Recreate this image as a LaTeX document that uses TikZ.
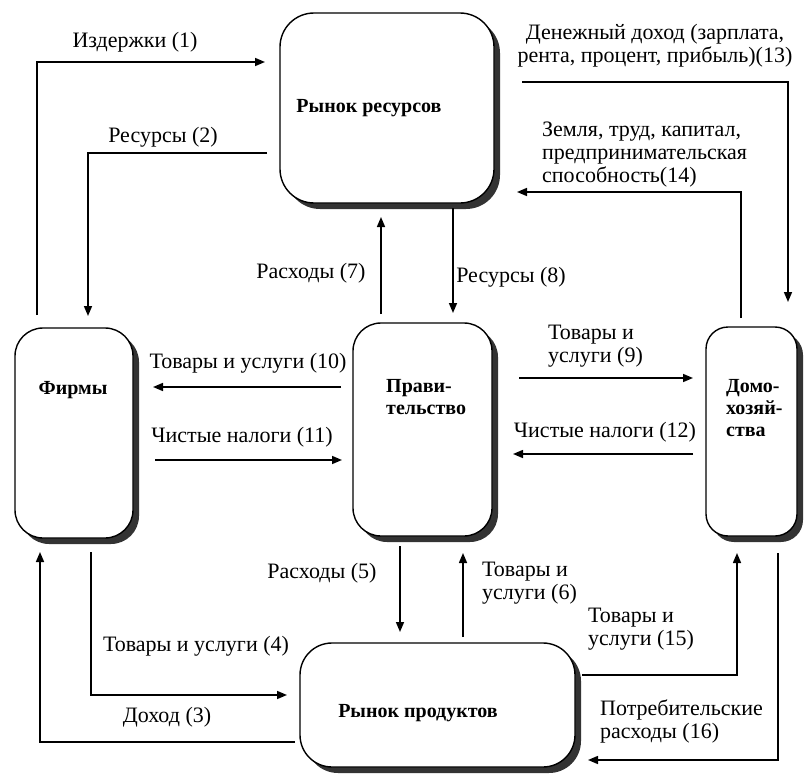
\documentclass[tikz,border=0pt]{standalone}
\usepackage{fontspec}
\setmainfont{Liberation Serif}
\usetikzlibrary{arrows.meta,calc,shadows}
\begin{document}
\begin{tikzpicture}[x=1pt,y=-1pt,
  box/.style={draw=black, line width=1.4pt, rounded corners=28pt, fill=white,
    inner sep=0pt, outer sep=0pt,
    drop shadow={shadow xshift=6pt, shadow yshift=-6pt, fill=black!80, opacity=1}},
  title/.style={font=\fontsize{20}{22}\selectfont\bfseries, align=left, inner sep=0pt},
  lbl/.style={font=\fontsize{22}{23}\selectfont, align=left, inner sep=0pt},
  flow/.style={line width=1.5pt, -{Triangle[length=10pt,width=8pt]}},
]
\useasboundingbox (0,0) rectangle (807,779);

% sectors and markets
\node[box, minimum width=214pt, minimum height=190pt, rounded corners=34pt] (res) at (387,108) {};
\node[box, minimum width=118pt, minimum height=210pt] (firms) at (74,433)    {};
\node[box, minimum width=139pt, minimum height=213pt] (gov)   at (422.5,429.5) {};
\node[box, minimum width=91pt,  minimum height=209pt, rounded corners=22pt] (house) at (751.5,431.5) {};
\node[box, minimum width=275pt, minimum height=124pt, rounded corners=32pt] (prod) at (437.5,705) {};

\node[title] (res-t)   at (369,108) {Рынок ресурсов};
\node[title] (firms-t) at (73,390)  {Фирмы};
\node[title, anchor=west] (gov-t)   at (386,397) {Прави-\\тельство};
\node[title, anchor=west] (house-t) at (726,408) {Домо-\\хозяй-\\ства};
\node[title] (prod-t)  at (418,713) {Рынок продуктов};

% money and goods flows
\draw[flow] ($(firms.north west)+(22,-13)$) |- ($(res.north west)+(-15,49)$);
\draw[flow] ($(res.north west)+(-13,140)$) -| ($(firms.north west)+(73,-12)$);
\draw[flow] ($(gov.north west)+(28,-9)$) -- ($(res.south west)+(101,14)$);
\draw[flow] ($(res.south west)+(173,5)$) -- ($(gov.north west)+(100,-10)$);
\draw[flow] ($(res.north east)+(28,69)$) -| ($(house.north east)+(-9,-25)$);
\draw[flow] ($(house.north west)+(35,-9)$) |- ($(res.north east)+(23,179)$);
\draw[flow] ($(gov.north west)+(-12,64)$) -- ($(firms.north east)+(20,59)$);
\draw[flow] ($(firms.north east)+(22,132)$) -- ($(gov.north west)+(-11,137)$);
\draw[flow] ($(gov.north east)+(27,55)$) -- ($(house.north west)+(-13,51)$);
\draw[flow] ($(house.north west)+(-13,127)$) -- ($(gov.north east)+(21,131)$);
\draw[flow] ($(prod.south west)+(-5,-25)$) -| ($(firms.south west)+(25,14)$);
\draw[flow] ($(firms.south west)+(76,14)$) |- ($(prod.north west)+(-13,52)$);
\draw[flow] ($(gov.south west)+(47,10)$) -- ($(prod.north west)+(100,-11)$);
\draw[flow] ($(prod.north west)+(163,-6)$) -- ($(gov.south west)+(110,17)$);
\draw[flow] ($(prod.north east)+(7,32)$) -| ($(house.south west)+(31,17)$);
\draw[flow] ($(house.south west)+(72,17)$) |- ($(prod.south east)+(13,-7)$);

% flow labels
\node[lbl] (l1)  at (135,42)  {Издержки (1)};
\node[lbl] (l2)  at (163,137) {Ресурсы (2)};
\node[lbl] (l7)  at (311,273) {Расходы (7)};
\node[lbl] (l8)  at (511,277) {Ресурсы (8)};
\node[lbl, align=center] (l13) at (655,46) {Денежный доход (зарплата,\\рента, процент, прибыль)(13)};
\node[lbl, anchor=west] (l14) at (542,155) {Земля, труд, капитал,\\предпринимательская\\способность(14)};
\node[lbl] (l10) at (248,363) {Товары и услуги (10)};
\node[lbl] (l11) at (242,437) {Чистые налоги (11)};
\node[lbl, anchor=west] (l9)  at (548,346) {Товары и\\услуги (9)};
\node[lbl] (l12) at (605,432) {Чистые налоги (12)};
\node[lbl] (l5)  at (322,573) {Расходы (5)};
\node[lbl] (l4)  at (196,646) {Товары и услуги (4)};
\node[lbl] (l3)  at (167,717) {Доход (3)};
\node[lbl, anchor=west] (l6)  at (482,583) {Товары и\\услуги (6)};
\node[lbl, anchor=west] (l15) at (588,629) {Товары и\\услуги (15)};
\node[lbl, anchor=west] (l16) at (600,721) {Потребительские\\расходы (16)};
\end{tikzpicture}
\end{document}
